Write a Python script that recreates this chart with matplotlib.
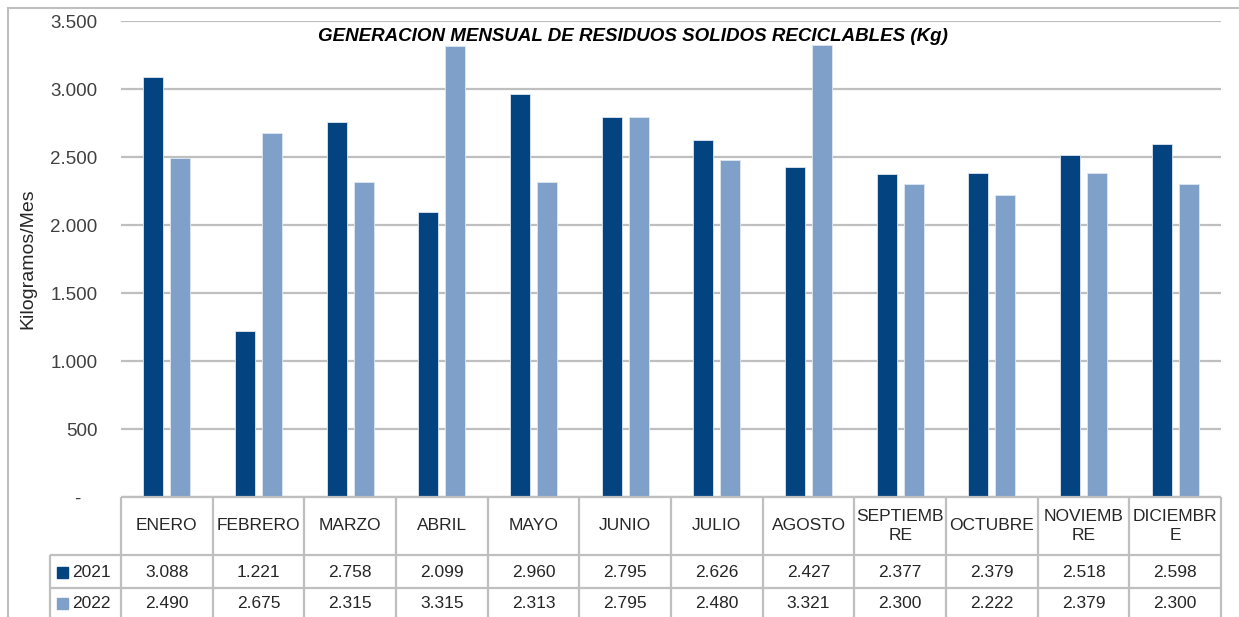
import numpy as np
import matplotlib.pyplot as plt
from matplotlib.patches import Rectangle

plt.rcParams['font.family'] = ['Liberation Sans', 'DejaVu Sans']

meses = ['ENERO', 'FEBRERO', 'MARZO', 'ABRIL', 'MAYO', 'JUNIO', 'JULIO',
         'AGOSTO', 'SEPTIEMB\nRE', 'OCTUBRE', 'NOVIEMB\nRE', 'DICIEMBR\nE']
v2021 = [3088, 1221, 2758, 2099, 2960, 2795, 2626, 2427, 2377, 2379, 2518, 2598]
v2022 = [2490, 2675, 2315, 3315, 2313, 2795, 2480, 3321, 2300, 2222, 2379, 2300]
series = ['2021', '2022']
colores = ['#03437f', '#7fa0c8']
yticks = [0, 500, 1000, 1500, 2000, 2500, 3000, 3500]

W, H = 1239, 617
grid_c = '#bfbfbf'

def fmt(v):
    if v == 0:
        return '-   '
    return f'{v:,}'.replace(',', '.')

fig = plt.figure(figsize=(W / 100, H / 100), dpi=100)

# borde del grafico
fig.patches.append(Rectangle((8 / W, -0.1), 1.2, (H - 8) / H + 0.1, transform=fig.transFigure,
                             fill=False, edgecolor=grid_c, linewidth=1.5))

left, right, top, bottom = 121, 1221, 21, 497
ax = fig.add_axes([left / W, (H - bottom) / H, (right - left) / W, (bottom - top) / H])
x = np.arange(len(meses))
bw = 0.22
off = 0.147
ax.bar(x - off, v2021, bw, color=colores[0], edgecolor='#dfe7f1', linewidth=0.6, zorder=3)
ax.bar(x + off, v2022, bw, color=colores[1], edgecolor='#dfe7f1', linewidth=0.6, zorder=3)
ax.set_xlim(-0.5, len(meses) - 0.5)
ax.set_ylim(0, 3500)
ax.set_yticks(yticks)
ax.set_yticklabels([fmt(v) for v in yticks], fontsize=13.5, color='#404040')
ax.tick_params(axis='y', length=0, pad=17)
ax.set_xticks([])
for s in ax.spines.values():
    s.set_visible(False)
ax.grid(axis='y', color=grid_c, linewidth=1.6, zorder=0)
ax.set_ylabel('Kilogramos/Mes', fontsize=14, color='#262626')
ax.yaxis.set_label_coords(-0.077, 0.5)
ax.patch.set_alpha(0)

ax.text(0.4655, 0.968, 'GENERACION MENSUAL DE RESIDUOS SOLIDOS RECICLABLES (Kg)',
        transform=ax.transAxes, ha='center', va='center', fontsize=13.5,
        fontweight='bold', fontstyle='italic', color='black', zorder=5)

# tabla de datos
tab_h = H - bottom
tx = fig.add_axes([left / W, 0, (right - left) / W, tab_h / H])
tx.set_xlim(-0.5, len(meses) - 0.5)
tx.set_ylim(0, tab_h)
tx.axis('off')
cw = (right - left) / len(meses)
def px2d(p):
    return -0.5 + (p - left) / cw

y_head_top = tab_h
y_head_bot = tab_h - 58
y_r1_bot = y_head_bot - 33
y_r2_bot = y_r1_bot - 33
leg_l = px2d(50)
lw = 1.6
kw = dict(color=grid_c, linewidth=lw, clip_on=False, solid_capstyle='butt')
tx.plot([-0.5, 11.5], [y_head_top, y_head_top], **kw)
for yy in [y_head_bot, y_r1_bot]:
    tx.plot([leg_l, 11.5], [yy, yy], **kw)
for i in range(len(meses) + 1):
    tx.plot([i - 0.5, i - 0.5], [y_head_top, y_r2_bot], **kw)
tx.plot([leg_l, leg_l], [y_head_bot, y_r2_bot], **kw)

for i, m in enumerate(meses):
    tx.text(i, (y_head_top + y_head_bot) / 2, m, ha='center', va='center',
            fontsize=12.5, color='#262626', linespacing=1.4)
    tx.text(i, (y_head_bot + y_r1_bot) / 2 - 1, fmt(v2021[i]), ha='center', va='center',
            fontsize=12.5, color='#262626')
    tx.text(i, (y_r1_bot + y_r2_bot) / 2 + 1, fmt(v2022[i]), ha='center', va='center',
            fontsize=12.5, color='#262626')

for k, (nombre, c) in enumerate(zip(series, colores)):
    yc = ((y_head_bot + y_r1_bot) / 2 - 1) if k == 0 else ((y_r1_bot + y_r2_bot) / 2 + 1)
    tx.add_patch(Rectangle((px2d(57), yc - 5.5), px2d(68) - px2d(57), 11,
                           color=c, clip_on=False))
    tx.text(px2d(72), yc, nombre, ha='left', va='center', fontsize=12.5, color='#262626')

fig.savefig('out.png', dpi=100)
